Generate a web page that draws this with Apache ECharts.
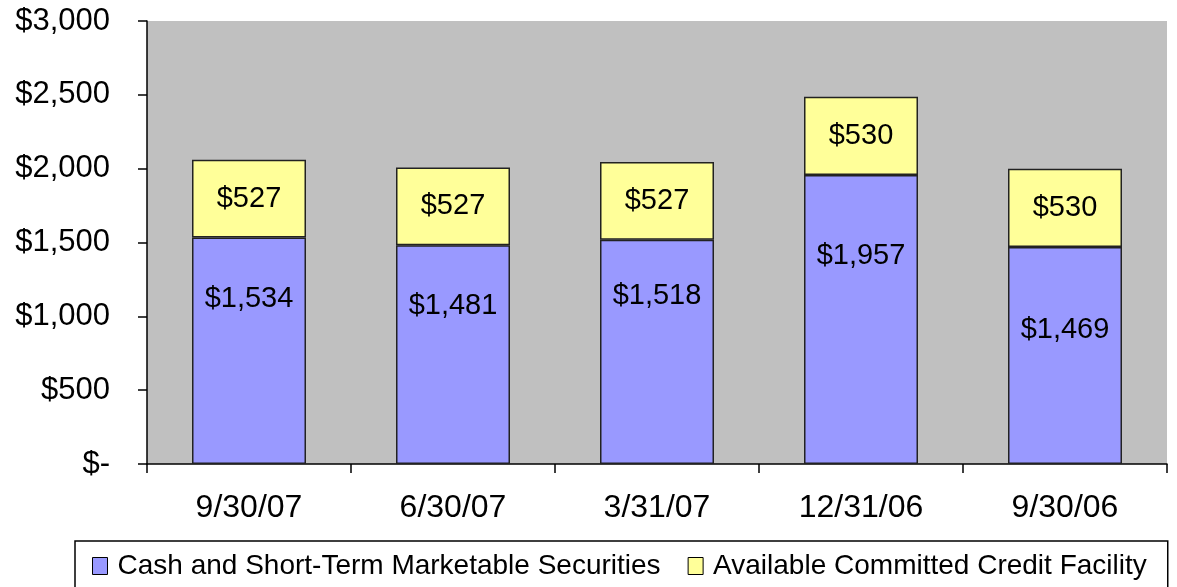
<!DOCTYPE html>
<html>
<head>
<meta charset="utf-8">
<script src="https://cdn.jsdelivr.net/npm/echarts@6/dist/echarts.min.js"></script>
<style>
  html, body { margin: 0; padding: 0; background: #fff; }
  #chart { width: 1177px; height: 587px; }
</style>
</head>
<body>
<div id="chart"></div>
<script>
// 数据
var categories = ['9/30/07', '6/30/07', '3/31/07', '12/31/06', '9/30/06'];
var cashValues = [1534, 1481, 1518, 1957, 1469];
var creditValues = [527, 527, 527, 530, 530];
var yTicks = [0, 500, 1000, 1500, 2000, 2500, 3000];

// blue labels sit nearer the top of the bar in the original
var cashLabelGap = [47, 46, 42, 66, 68];

var font = "'Liberation Sans', Arial, sans-serif";

function money(v) {
    if (v === 0) return '$-';
    return '$' + v.toLocaleString('en-US');
}

var chart = echarts.init(document.getElementById('chart'));

var option = {
    animation: false,
    textStyle: { fontFamily: font, color: '#000' },
    grid: {
        left: 147,
        right: 10,
        top: 21,
        bottom: 123,
        show: true,
        backgroundColor: '#C0C0C0',
        borderWidth: 0
    },
    legend: {
        left: 75,
        top: 541,
        padding: [11, 21, 30, 17],
        itemGap: 27,
        itemWidth: 15,
        itemHeight: 17,
        icon: 'rect',
        borderColor: '#000',
        borderWidth: 1.5,
        backgroundColor: '#fff',
        itemStyle: { borderColor: '#000', borderWidth: 1 },
        textStyle: { fontFamily: font, fontSize: 28, color: '#000', padding: [0, 0, 0, 5] },
        data: ['Cash and Short-Term Marketable Securities', 'Available Committed Credit Facility']
    },
    xAxis: {
        type: 'category',
        data: categories,
        axisLine: { lineStyle: { color: '#000', width: 1.5 } },
        axisTick: { show: true, length: 9, lineStyle: { color: '#000', width: 1.5 } },
        axisLabel: { fontFamily: font, fontSize: 32, color: '#000', margin: 28 },
        splitLine: { show: false }
    },
    yAxis: {
        type: 'value',
        min: yTicks[0],
        max: yTicks[yTicks.length - 1],
        interval: 500,
        axisLine: { show: true, lineStyle: { color: '#000', width: 1.5 } },
        axisTick: { show: true, length: 9, lineStyle: { color: '#000', width: 1.5 } },
        axisLabel: { fontFamily: font, fontSize: 31, color: '#000', margin: 37, formatter: money },
        splitLine: { show: false }
    },
    series: [
        {
            name: 'Cash and Short-Term Marketable Securities',
            type: 'bar',
            stack: 'total',
            barWidth: 114,
            itemStyle: { color: '#9999FF', borderColor: '#222', borderWidth: 1.5 },
            label: {
                show: true,
                position: 'insideTop',
                fontFamily: font,
                fontSize: 29,
                color: '#000',
                formatter: function (p) { return money(p.value); }
            },
            data: cashValues.map(function (v, i) {
                return { value: v, label: { distance: cashLabelGap[i] } };
            })
        },
        {
            name: 'Available Committed Credit Facility',
            type: 'bar',
            stack: 'total',
            barWidth: 114,
            itemStyle: { color: '#FFFF99', borderColor: '#222', borderWidth: 1.5 },
            label: {
                show: true,
                position: 'inside',
                fontFamily: font,
                fontSize: 29,
                color: '#000',
                formatter: function (p) { return money(p.value); }
            },
            data: creditValues
        }
    ]
};

chart.setOption(option);
</script>
</body>
</html>
